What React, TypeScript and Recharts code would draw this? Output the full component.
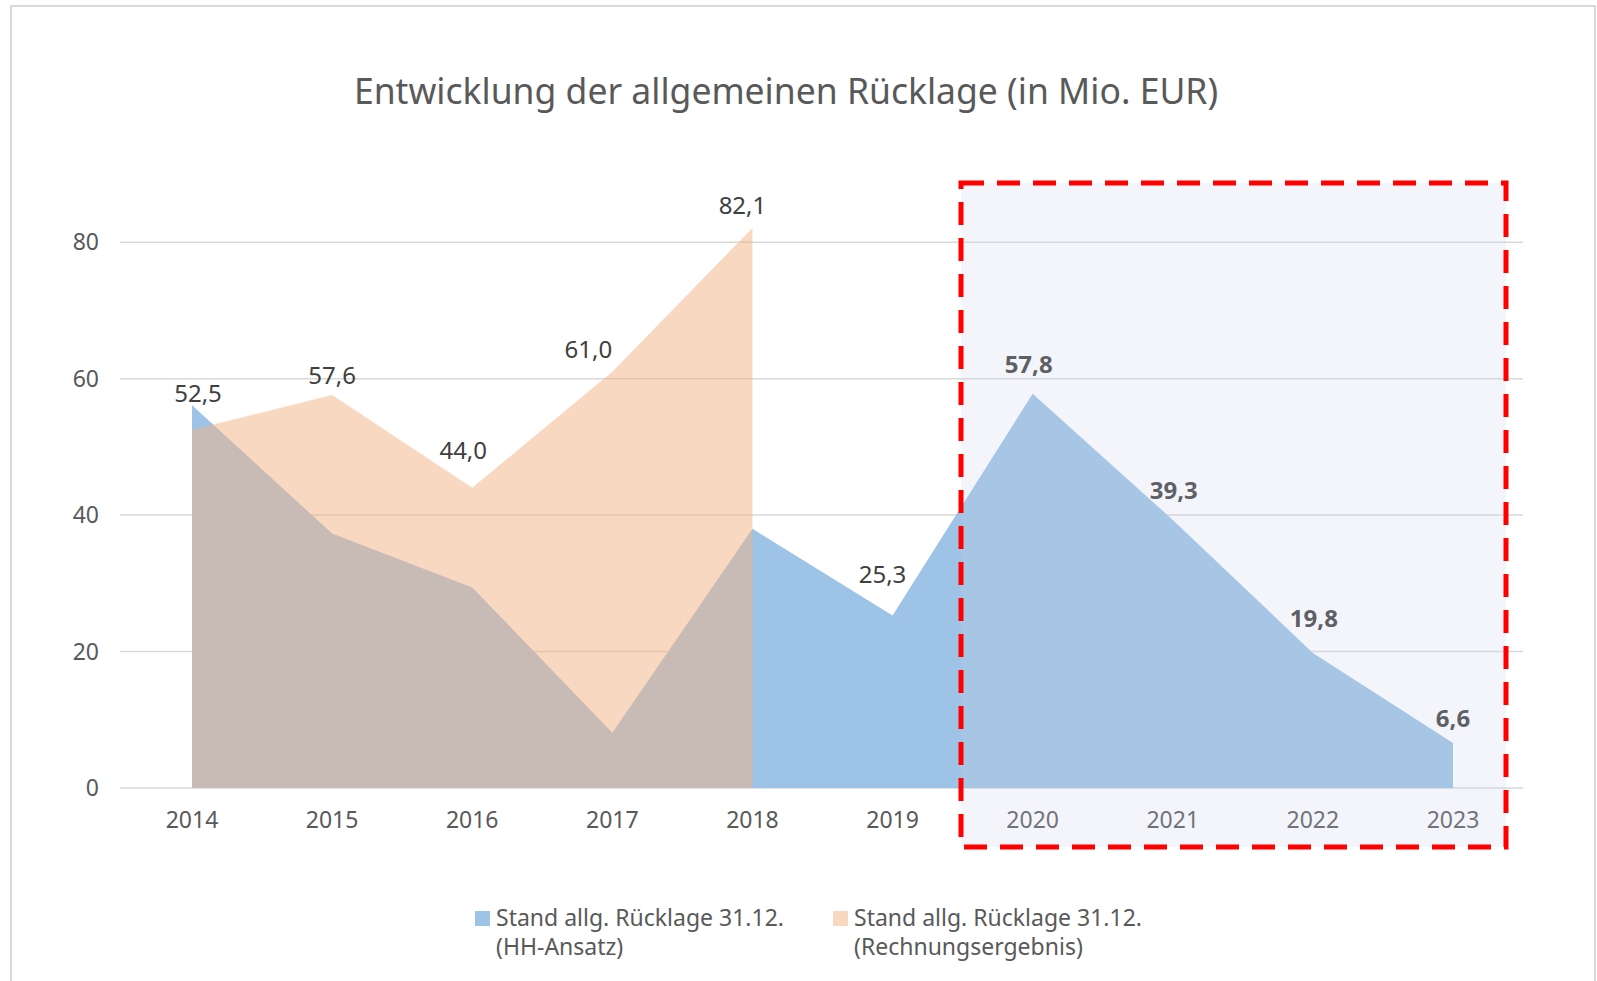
import React from "react";
import {
  Area,
  CartesianGrid,
  ComposedChart,
  LabelList,
  XAxis,
  YAxis,
} from "recharts";

const YEARS = ["2014", "2015", "2016", "2017", "2018", "2019", "2020", "2021", "2022", "2023"];
// Stand allg. Rücklage 31.12. (HH-Ansatz)
const HH_ANSATZ = [56.1, 37.3, 29.4, 8.1, 38.0, 25.3, 57.8, 39.3, 19.8, 6.6];
// Stand allg. Rücklage 31.12. (Rechnungsergebnis)
const RECHNUNG: (number | null)[] = [52.5, 57.6, 44.0, 61.0, 82.1, null, null, null, null, null];
const Y_TICKS = [0, 20, 40, 60, 80];
const Y_MAX = 90;

const TITLE = "Entwicklung der allgemeinen Rücklage (in Mio. EUR)";
const LEGEND_HH = ["Stand allg. Rücklage 31.12.", "(HH-Ansatz)"];
const LEGEND_RE = ["Stand allg. Rücklage 31.12.", "(Rechnungsergebnis)"];

// which series carries the visible label per year, and hand nudges like in the original
const LABEL_OWNER = ["re", "re", "re", "re", "re", "hh", "hh", "hh", "hh", "hh"];
const LABEL_NUDGE: [number, number][] = [
  [6, -37], [0, -21], [-9, -38], [-24, -23], [-10, -23],
  [-10, -42], [-4, -30], [1, -30], [1, -35], [0, -25],
];
const BOLD_FROM = 6;

const BLUE = "#9DC3E6";
const ORANGE = "#F4B183";
const ORANGE_OPACITY = 0.5;
const TEXT = "#595959";
const LABEL_TEXT = "#404040";
const GRID = "#D9D9D9";
const FONT = "'Noto Sans', sans-serif";

const data = YEARS.map((year, i) => ({ year, hh: HH_ANSATZ[i], re: RECHNUNG[i] }));

const fmt = (v: number) => v.toFixed(1).replace(".", ",");

// grid only at the labelled ticks (no line at the 90 top edge)
const gridRows = ({ offset }: any) =>
  Y_TICKS.map((t) => offset.top + offset.height * (1 - t / Y_MAX));

function makeLabel(owner: string) {
  return (props: any) => {
    const { x, y, value, index } = props;
    if (value == null || LABEL_OWNER[index] !== owner) return null;
    const [dx, dy] = LABEL_NUDGE[index];
    return (
      <text
        x={x + dx}
        y={y + dy}
        textAnchor="middle"
        dominantBaseline="central"
        fontFamily={FONT}
        fontSize={24}
        fontWeight={index >= BOLD_FROM ? 700 : 400}
        fill={LABEL_TEXT}
      >
        {fmt(value)}
      </text>
    );
  };
}

function LegendItem({
  color,
  opacity,
  lines,
  width,
}: {
  color: string;
  opacity: number;
  lines: string[];
  width: number;
}) {
  return (
    <div style={{ display: "flex", alignItems: "flex-start", width }}>
      <div
        style={{ width: 15, height: 15, background: color, opacity, marginTop: 8, marginRight: 6 }}
      />
      <div style={{ fontSize: 23, lineHeight: "29px", color: TEXT, whiteSpace: "nowrap" }}>
        {lines.map((l) => (
          <div key={l}>{l}</div>
        ))}
      </div>
    </div>
  );
}

export default function App() {
  return (
    <div
      style={{
        position: "absolute",
        left: 0,
        top: 0,
        width: 1597,
        height: 981,
        background: "#fff",
        overflow: "hidden",
        fontFamily: FONT,
      }}
    >
      <div
        style={{
          position: "absolute",
          left: 10,
          top: 5,
          width: 1582,
          height: 1000,
          border: "2px solid #D9D9D9",
        }}
      />
      <div
        style={{
          position: "absolute",
          top: 66,
          left: 0,
          width: 1572,
          textAlign: "center",
          fontSize: 35.5,
          color: TEXT,
        }}
      >
        {TITLE}
      </div>
      <div style={{ position: "absolute", left: 0, top: 0 }}>
        <ComposedChart
          width={1597}
          height={981}
          data={data}
          margin={{ top: 174, right: 74, bottom: 163, left: 60 }}
        >
          <CartesianGrid
            vertical={false}
            stroke={GRID}
            strokeWidth={1.5}
            horizontalCoordinatesGenerator={gridRows}
          />
          <XAxis
            dataKey="year"
            interval={0}
            height={30}
            padding={{ left: 72, right: 70 }}
            axisLine={false}
            tickLine={false}
            tickSize={0}
            tickMargin={24}
            tick={{ fill: TEXT, fontSize: 23, fontFamily: FONT }}
          />
          <YAxis
            domain={[0, Y_MAX]}
            ticks={Y_TICKS}
            width={60}
            axisLine={false}
            tickLine={false}
            tickSize={0}
            tickMargin={21}
            tick={{ fill: TEXT, fontSize: 23, fontFamily: FONT }}
          />
          <Area
            type="linear"
            dataKey="hh"
            name="Stand allg. Rücklage 31.12. (HH-Ansatz)"
            stroke="none"
            fill={BLUE}
            fillOpacity={1}
            isAnimationActive={false}
          >
            <LabelList dataKey="hh" content={makeLabel("hh")} />
          </Area>
          <Area
            type="linear"
            dataKey="re"
            name="Stand allg. Rücklage 31.12. (Rechnungsergebnis)"
            stroke="none"
            fill={ORANGE}
            fillOpacity={ORANGE_OPACITY}
            isAnimationActive={false}
          >
            <LabelList dataKey="re" content={makeLabel("re")} />
          </Area>
        </ComposedChart>
      </div>
      {/* highlight box drawn over the forecast years */}
      <svg
        width={1597}
        height={981}
        style={{ position: "absolute", left: 0, top: 0, pointerEvents: "none" }}
      >
        <rect
          x={961}
          y={183}
          width={545}
          height={664}
          fill="rgb(205,209,232)"
          fillOpacity={0.22}
          stroke="#FF0000"
          strokeWidth={5}
          strokeDasharray="23 13"
        />
      </svg>
      <div style={{ position: "absolute", left: 475, top: 903, display: "flex" }}>
        <LegendItem color={BLUE} opacity={1} lines={LEGEND_HH} width={358} />
        <LegendItem color={ORANGE} opacity={ORANGE_OPACITY} lines={LEGEND_RE} width={320} />
      </div>
    </div>
  );
}
